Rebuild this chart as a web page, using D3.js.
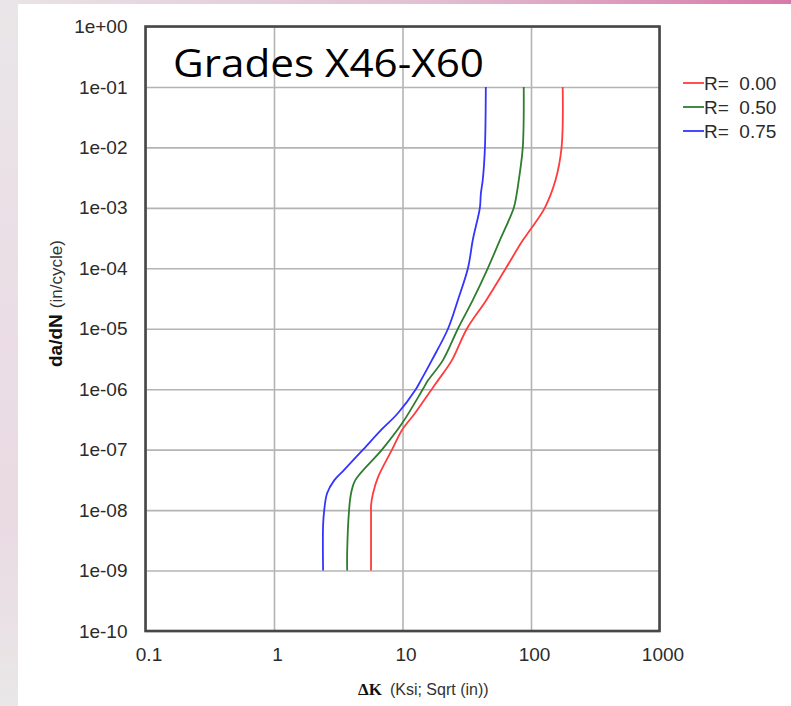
<!DOCTYPE html>
<html>
<head>
<meta charset="UTF-8">
<title>Grades X46-X60</title>
<style>
  body { margin: 0; overflow: hidden; background: #fff; }
  text { font-family: "Liberation Sans", Arial, sans-serif; }
</style>
<script src="https://cdn.jsdelivr.net/npm/d3@7"></script>
</head>
<body>
<script>
const width = 791, height = 706;

// legend / series
const seriesNames = ["R=  0.00", "R=  0.50", "R=  0.75"];
const seriesColors = ["#ff3b3b", "#2f7d2f", "#3434ff"];

// points: [deltaK, da/dN]
const curveR000 = [[176.5, 1e-1], [173, 1e-2], [155, 2.85e-3], [128, 1e-3],
  [98, 4.25e-4], [86.3, 2.9e-4], [63.7, 1e-4], [45, 3e-5], [31.7, 1e-5],
  [24.2, 3e-6], [18.9, 1.4e-6], [16.9, 1e-6], [12.5, 4e-7], [9.9, 2.1e-7], [8.29, 1e-7],
  [6.45, 3.5e-8], [5.9, 1.9e-8], [5.69, 1.2e-8], [5.69, 1e-8], [5.69, 1e-9]];
const curveR050 = [[87.8, 1e-1], [86.3, 1e-2], [80.3, 2.85e-3], [77.5, 1.74e-3], [73.5, 1e-3],
  [57.2, 2.9e-4], [46.1, 1e-4], [35.3, 3e-5], [27, 1e-5], [20.6, 3e-6], [15.8, 1.4e-6],
  [14.4, 1e-6], [9.9, 2.7e-7], [6.93, 1e-7], [4.28, 3.1e-8], [3.98, 1.9e-8], [3.84, 1e-8],
  [3.71, 2e-9], [3.71, 1e-9]];
const curveR075 = [[44.5, 1e-1], [43.8, 1e-2], [42.2, 3e-3], [40.7, 1.7e-3], [40, 1e-3],
  [35.3, 3e-4], [32.3, 1e-4], [27, 3e-5], [22.6, 1e-5], [16.9, 3e-6], [13.9, 1.4e-6],
  [12.7, 1e-6], [9.2, 4e-7], [6.8, 2.1e-7], [4.93, 1e-7], [3.5, 4.6e-8], [2.94, 3.1e-8],
  [2.59, 1.9e-8], [2.46, 1e-8], [2.41, 5.6e-9], [2.41, 1e-9]];
const curves = [curveR000, curveR050, curveR075];

const xTicks = [0.1, 1, 10, 100, 1000];
const xTickLabels = ["0.1", "1", "10", "100", "1000"];
const yTicks = [1e0, 1e-1, 1e-2, 1e-3, 1e-4, 1e-5, 1e-6, 1e-7, 1e-8, 1e-9, 1e-10];
const yTickLabels = ["1e+00", "1e-01", "1e-02", "1e-03", "1e-04", "1e-05",
  "1e-06", "1e-07", "1e-08", "1e-09", "1e-10"];

const margin = {top: 26.5, right: 131.5, bottom: 75, left: 145.5};
const plotW = width - margin.left - margin.right;
const plotH = height - margin.top - margin.bottom;

const svg = d3.select("body").append("svg")
  .attr("width", width)
  .attr("height", height);

// slide background round the picture
const defs = svg.append("defs");
const topGrad = defs.append("linearGradient").attr("id", "topGrad");
topGrad.append("stop").attr("offset", "0%").attr("stop-color", "#e9e4e7");
topGrad.append("stop").attr("offset", "55%").attr("stop-color", "#e2bfd2");
topGrad.append("stop").attr("offset", "100%").attr("stop-color", "#d879aa");
const leftGrad = defs.append("linearGradient").attr("id", "leftGrad")
  .attr("x1", 0).attr("y1", 0).attr("x2", 0).attr("y2", 1);
leftGrad.append("stop").attr("offset", "0%").attr("stop-color", "#e9e6e8");
leftGrad.append("stop").attr("offset", "45%").attr("stop-color", "#ebdde5");
leftGrad.append("stop").attr("offset", "75%").attr("stop-color", "#eadbe3");
leftGrad.append("stop").attr("offset", "100%").attr("stop-color", "#e9e7e8");

svg.append("rect").attr("width", width).attr("height", height).attr("fill", "#fff");
svg.append("rect").attr("width", width).attr("height", 4).attr("fill", "url(#topGrad)");
svg.append("rect").attr("width", 18).attr("height", height).attr("fill", "url(#leftGrad)");

const x = d3.scaleLog()
  .domain([0.1, 1000])
  .range([margin.left, margin.left + plotW]);
const y = d3.scaleLog()
  .domain([1e-10, 1])
  .range([margin.top + plotH, margin.top]);

// grid + tick labels
const gx = svg.append("g")
  .attr("transform", `translate(0, ${margin.top + plotH})`)
  .call(d3.axisBottom(x)
    .tickValues(xTicks)
    .tickFormat((d, i) => xTickLabels[i])
    .tickSize(-plotH)
    .tickPadding(17));
const gy = svg.append("g")
  .attr("transform", `translate(${margin.left}, 0)`)
  .call(d3.axisLeft(y)
    .tickValues(yTicks)
    .tickFormat((d, i) => yTickLabels[i])
    .tickSize(-plotW)
    .tickPadding(18));

[gx, gy].forEach(g => {
  g.select(".domain").remove();
  g.selectAll(".tick line").attr("stroke", "#b4b4b4").attr("stroke-width", 1.6);
  g.selectAll(".tick text")
    .attr("fill", "#2b2b2b")
    .style("font-size", "19px")
    .style("font-family", "'Liberation Sans', Arial, sans-serif");
});
gx.selectAll(".tick text").attr("dx", 3);

// curves
const line = d3.line()
  .x(d => x(d[0]))
  .y(d => y(d[1]))
  .curve(d3.curveCatmullRom.alpha(0.5));

svg.selectAll(".curve")
  .data(curves)
  .join("path")
  .attr("class", "curve")
  .attr("d", line)
  .attr("fill", "none")
  .attr("stroke", (d, i) => seriesColors[i])
  .attr("stroke-width", 1.8);

// frame
svg.append("rect")
  .attr("x", margin.left)
  .attr("y", margin.top)
  .attr("width", plotW)
  .attr("height", plotH)
  .attr("fill", "none")
  .attr("stroke", "#474747")
  .attr("stroke-width", 2.6);

// title
svg.append("text")
  .attr("x", 173)
  .attr("y", 77)
  .attr("textLength", 311)
  .attr("lengthAdjust", "spacingAndGlyphs")
  .style("font-family", "'Open Sans', 'Noto Sans', sans-serif")
  .style("font-size", "38px")
  .attr("fill", "#000")
  .text("Grades X46-X60");

// legend
const legend = svg.append("g");
seriesNames.forEach((name, i) => {
  const ly = 83 + i * 24;
  legend.append("line")
    .attr("x1", 683).attr("x2", 704)
    .attr("y1", ly).attr("y2", ly)
    .attr("stroke", seriesColors[i])
    .attr("stroke-width", 1.8);
  legend.append("text")
    .attr("x", 704)
    .attr("y", ly + 7)
    .attr("xml:space", "preserve")
    .style("white-space", "pre")
    .style("font-size", "19px")
    .attr("fill", "#2b2b2b")
    .text(name);
});

// y axis title
const yTitle = svg.append("text")
  .attr("transform", "translate(62, 367) rotate(-90)")
  .attr("text-anchor", "start")
  .attr("fill", "#111");
yTitle.append("tspan")
  .style("font-weight", "bold")
  .style("font-size", "19px")
  .text("da/dN");
yTitle.append("tspan")
  .attr("dx", 6)
  .style("font-size", "17px")
  .attr("fill", "#333")
  .text("(in/cycle)");

// x axis title
const xTitle = svg.append("text")
  .attr("x", 358)
  .attr("y", 695)
  .attr("fill", "#111");
xTitle.append("tspan")
  .style("font-family", "'Liberation Serif', 'Times New Roman', serif")
  .style("font-weight", "bold")
  .style("font-size", "17px")
  .text("ΔK");
xTitle.append("tspan")
  .attr("dx", 8)
  .style("font-size", "16px")
  .attr("fill", "#333")
  .text("(Ksi; Sqrt (in))");
</script>
</body>
</html>
